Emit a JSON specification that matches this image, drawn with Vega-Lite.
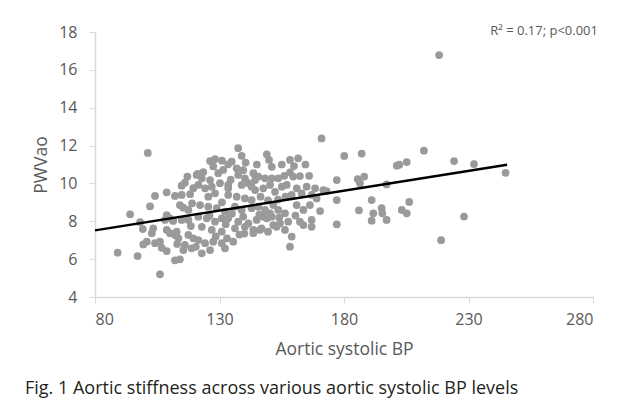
{
  "$schema": "https://vega.github.io/schema/vega-lite/v6.json",
  "width": 498,
  "height": 265,
  "autosize": "none",
  "padding": {"left": 95, "top": 32, "right": 34, "bottom": 110},
  "background": "white",
  "title": {
    "text": "Fig. 1 Aortic stiffness across various aortic systolic BP levels",
    "orient": "bottom",
    "anchor": "start",
    "frame": "group",
    "dx": -70,
    "offset": 22,
    "font": "Open Sans",
    "fontSize": 18,
    "fontWeight": "normal",
    "color": "#231f20"
  },
  "config": {
    "view": {"stroke": null},
    "axis": {
      "grid": false,
      "domainColor": "#d9d9d9",
      "domainWidth": 1.5,
      "tickColor": "#d9d9d9",
      "tickSize": 6,
      "labelOverlap": false,
      "labelFont": "Open Sans",
      "labelFontSize": 16,
      "labelColor": "#595959",
      "titleFont": "Open Sans",
      "titleFontSize": 17.5,
      "titleFontWeight": "normal",
      "titleColor": "#595959"
    }
  },
  "datasets": {
    "points": [
      {"bp":89.1,"pwv":6.34},{"bp":97.1,"pwv":6.16},{"bp":101.2,"pwv":11.61},{"bp":94.1,"pwv":8.37},{"bp":106.1,"pwv":5.2},
      {"bp":102.1,"pwv":8.79},{"bp":104.1,"pwv":9.34},{"bp":108.8,"pwv":9.53},{"bp":112.1,"pwv":9.34},{"bp":114.8,"pwv":9.39},
      {"bp":118.2,"pwv":9.43},{"bp":117.1,"pwv":10.36},{"bp":120.8,"pwv":10.45},{"bp":114.8,"pwv":9.88},{"bp":116.1,"pwv":10.04},
      {"bp":114.1,"pwv":8.86},{"bp":115.5,"pwv":8.72},{"bp":117.5,"pwv":8.6},{"bp":108.8,"pwv":8.33},{"bp":110.1,"pwv":8.16},
      {"bp":108.1,"pwv":8.07},{"bp":111.4,"pwv":8.02},{"bp":114.8,"pwv":8.07},{"bp":117.5,"pwv":8.07},{"bp":98.1,"pwv":7.95},
      {"bp":99.2,"pwv":7.59},{"bp":103.4,"pwv":7.63},{"bp":102.8,"pwv":7.37},{"bp":108.8,"pwv":7.54},{"bp":110.1,"pwv":7.37},
      {"bp":112.1,"pwv":7.28},{"bp":113.5,"pwv":7.1},{"bp":112.8,"pwv":7.45},{"bp":117.5,"pwv":7.28},{"bp":119.5,"pwv":7.1},
      {"bp":100.8,"pwv":6.92},{"bp":99.4,"pwv":6.78},{"bp":104.1,"pwv":6.84},{"bp":106.1,"pwv":6.92},{"bp":106.8,"pwv":6.6},
      {"bp":108.8,"pwv":6.43},{"bp":116.1,"pwv":6.75},{"bp":118.8,"pwv":6.57},{"bp":115.5,"pwv":6.48},{"bp":112.1,"pwv":5.94},
      {"bp":114.1,"pwv":5.99},{"bp":137.5,"pwv":11.86},{"bp":138.9,"pwv":11.46},{"bp":126.2,"pwv":11.18},{"bp":128.2,"pwv":11.29},
      {"bp":149.0,"pwv":11.54},{"bp":149.9,"pwv":11.24},{"bp":151.0,"pwv":10.88},{"bp":133.5,"pwv":11.01},{"bp":134.9,"pwv":11.15},
      {"bp":136.9,"pwv":10.8},{"bp":121.2,"pwv":10.5},{"bp":122.9,"pwv":10.27},{"bp":126.2,"pwv":10.18},{"bp":129.5,"pwv":10.54},
      {"bp":131.5,"pwv":10.71},{"bp":137.5,"pwv":10.45},{"bp":140.2,"pwv":10.27},{"bp":143.6,"pwv":10.54},{"bp":145.6,"pwv":10.36},
      {"bp":148.3,"pwv":10.27},{"bp":151.0,"pwv":10.27},{"bp":121.5,"pwv":9.92},{"bp":124.2,"pwv":9.74},{"bp":126.9,"pwv":9.83},
      {"bp":130.2,"pwv":10.01},{"bp":133.5,"pwv":9.92},{"bp":138.9,"pwv":9.92},{"bp":141.6,"pwv":10.01},{"bp":144.3,"pwv":9.65},
      {"bp":147.6,"pwv":9.74},{"bp":150.3,"pwv":9.92},{"bp":128.2,"pwv":9.48},{"bp":133.5,"pwv":9.74},{"bp":133.5,"pwv":9.39},
      {"bp":136.9,"pwv":9.3},{"bp":140.2,"pwv":9.21},{"bp":142.9,"pwv":9.12},{"bp":122.2,"pwv":8.86},{"bp":125.5,"pwv":8.77},
      {"bp":128.9,"pwv":8.69},{"bp":132.2,"pwv":8.51},{"bp":136.2,"pwv":8.77},{"bp":138.9,"pwv":8.6},{"bp":142.9,"pwv":8.69},
      {"bp":145.6,"pwv":8.77},{"bp":148.3,"pwv":8.6},{"bp":121.5,"pwv":8.24},{"bp":124.9,"pwv":8.16},{"bp":128.2,"pwv":7.98},
      {"bp":130.9,"pwv":8.16},{"bp":133.5,"pwv":8.16},{"bp":137.5,"pwv":7.98},{"bp":141.6,"pwv":7.89},{"bp":144.9,"pwv":8.07},
      {"bp":149.0,"pwv":8.16},{"bp":151.0,"pwv":8.24},{"bp":122.9,"pwv":7.71},{"bp":126.9,"pwv":7.54},{"bp":130.9,"pwv":7.45},
      {"bp":136.2,"pwv":7.63},{"bp":140.2,"pwv":7.71},{"bp":143.6,"pwv":7.54},{"bp":146.9,"pwv":7.63},{"bp":121.5,"pwv":7.01},
      {"bp":124.2,"pwv":6.84},{"bp":127.5,"pwv":6.92},{"bp":130.9,"pwv":6.84},{"bp":135.5,"pwv":6.92},{"bp":122.9,"pwv":6.31},
      {"bp":126.2,"pwv":6.48},{"bp":132.2,"pwv":6.57},{"bp":171.0,"pwv":12.38},{"bp":180.1,"pwv":11.45},{"bp":187.1,"pwv":11.58},
      {"bp":158.3,"pwv":11.24},{"bp":161.6,"pwv":11.33},{"bp":159.9,"pwv":10.92},{"bp":158.3,"pwv":10.58},{"bp":162.3,"pwv":10.39},
      {"bp":159.6,"pwv":10.36},{"bp":177.1,"pwv":10.18},{"bp":144.3,"pwv":10.18},{"bp":142.9,"pwv":9.83},{"bp":153.6,"pwv":10.27},
      {"bp":152.3,"pwv":9.56},{"bp":155.0,"pwv":9.83},{"bp":157.0,"pwv":9.92},{"bp":161.0,"pwv":9.74},{"bp":165.0,"pwv":9.83},
      {"bp":168.4,"pwv":9.74},{"bp":171.7,"pwv":9.65},{"bp":159.0,"pwv":9.39},{"bp":163.0,"pwv":9.48},{"bp":167.0,"pwv":9.39},
      {"bp":169.0,"pwv":9.21},{"bp":177.1,"pwv":9.12},{"bp":161.0,"pwv":8.86},{"bp":166.3,"pwv":8.86},{"bp":163.7,"pwv":8.6},
      {"bp":151.6,"pwv":8.86},{"bp":153.6,"pwv":8.6},{"bp":170.4,"pwv":8.54},{"bp":156.3,"pwv":8.42},{"bp":150.3,"pwv":8.42},
      {"bp":147.6,"pwv":8.24},{"bp":162.3,"pwv":7.98},{"bp":167.0,"pwv":8.07},{"bp":167.0,"pwv":7.71},{"bp":163.7,"pwv":7.8},
      {"bp":151.6,"pwv":7.8},{"bp":154.3,"pwv":7.89},{"bp":157.6,"pwv":7.98},{"bp":156.3,"pwv":7.54},{"bp":177.1,"pwv":7.84},
      {"bp":159.0,"pwv":7.19},{"bp":158.3,"pwv":6.66},{"bp":146.3,"pwv":7.54},{"bp":143.6,"pwv":7.37},{"bp":152.9,"pwv":7.71},
      {"bp":201.2,"pwv":10.94},{"bp":202.2,"pwv":10.99},{"bp":205.2,"pwv":11.13},{"bp":212.1,"pwv":11.73},{"bp":224.2,"pwv":11.18},
      {"bp":232.2,"pwv":11.02},{"bp":244.9,"pwv":10.56},{"bp":185.5,"pwv":10.23},{"bp":188.1,"pwv":10.36},{"bp":186.4,"pwv":10.01},
      {"bp":197.1,"pwv":9.95},{"bp":191.1,"pwv":9.12},{"bp":186.0,"pwv":8.58},{"bp":191.8,"pwv":8.42},{"bp":195.1,"pwv":8.69},
      {"bp":195.4,"pwv":8.42},{"bp":191.1,"pwv":8.03},{"bp":197.1,"pwv":8.07},{"bp":203.2,"pwv":8.6},{"bp":205.2,"pwv":8.42},
      {"bp":206.2,"pwv":9.02},{"bp":228.2,"pwv":8.25},{"bp":219.0,"pwv":7.0},{"bp":218.2,"pwv":16.78},
      {"bp":119.5,"pwv":9.75},{"bp":123.5,"pwv":10.6},{"bp":127.5,"pwv":10.9},{"bp":131.0,"pwv":11.2},{"bp":140.5,"pwv":11.1},
      {"bp":145.0,"pwv":11.0},{"bp":155.0,"pwv":11.0},{"bp":156.0,"pwv":10.4},{"bp":139.5,"pwv":10.7},{"bp":134.5,"pwv":10.2},
      {"bp":146.5,"pwv":9.3},{"bp":149.5,"pwv":9.1},{"bp":153.5,"pwv":9.15},{"bp":156.5,"pwv":9.3},{"bp":125.5,"pwv":9.3},
      {"bp":119.0,"pwv":8.95},{"bp":131.0,"pwv":9.0},{"bp":135.0,"pwv":8.4},{"bp":139.5,"pwv":8.25},{"bp":146.0,"pwv":8.35},
      {"bp":154.0,"pwv":8.2},{"bp":160.5,"pwv":8.3},{"bp":118.5,"pwv":7.75},{"bp":126.0,"pwv":8.3},{"bp":132.5,"pwv":7.85},
      {"bp":140.0,"pwv":7.35},{"bp":149.5,"pwv":7.45},{"bp":128.5,"pwv":7.2},{"bp":133.0,"pwv":7.1},{"bp":138.0,"pwv":7.3},
      {"bp":113.0,"pwv":6.8},{"bp":120.5,"pwv":6.65},{"bp":173.0,"pwv":9.6},{"bp":166.0,"pwv":10.4},{"bp":164.5,"pwv":11.0}
    ],
    "trend": [
      {"bp":80,"pwv":7.52},
      {"bp":245.5,"pwv":10.99}
    ]
  },
  "layer": [
    {
      "data": {"name": "points"},
      "mark": {"type": "circle", "size": 60, "color": "#9a9a9a", "opacity": 1},
      "encoding": {
        "x": {
          "field": "bp", "type": "quantitative",
          "scale": {"domain": [80, 280], "nice": false, "zero": false},
          "axis": {"values": [80, 130, 180, 230, 280], "tickCount": 10, "format": "d", "labelPadding": 8, "titlePadding": 13, "labelOverlap": false},
          "title": "Aortic systolic BP"
        },
        "y": {
          "field": "pwv", "type": "quantitative",
          "scale": {"domain": [4, 18], "nice": false, "zero": false},
          "axis": {"values": [4, 6, 8, 10, 12, 14, 16, 18], "tickCount": 20, "format": "d", "labelPadding": 12, "titlePadding": 8, "labelOverlap": false, "labelBound": false, "labelFlush": false},
          "title": "PWVao"
        }
      }
    },
    {
      "data": {"name": "trend"},
      "mark": {"type": "line", "color": "#000000", "strokeWidth": 2.5},
      "encoding": {
        "x": {"field": "bp", "type": "quantitative"},
        "y": {"field": "pwv", "type": "quantitative"}
      }
    },
    {
      "data": {"values": [{"label": "R² = 0.17; p<0.001"}]},
      "mark": {"type": "text", "align": "right", "baseline": "middle", "font": "Open Sans", "fontSize": 13, "color": "#595959", "dx": 5, "dy": -1},
      "encoding": {
        "x": {"datum": 280},
        "y": {"datum": 18},
        "text": {"field": "label"}
      }
    }
  ]
}
